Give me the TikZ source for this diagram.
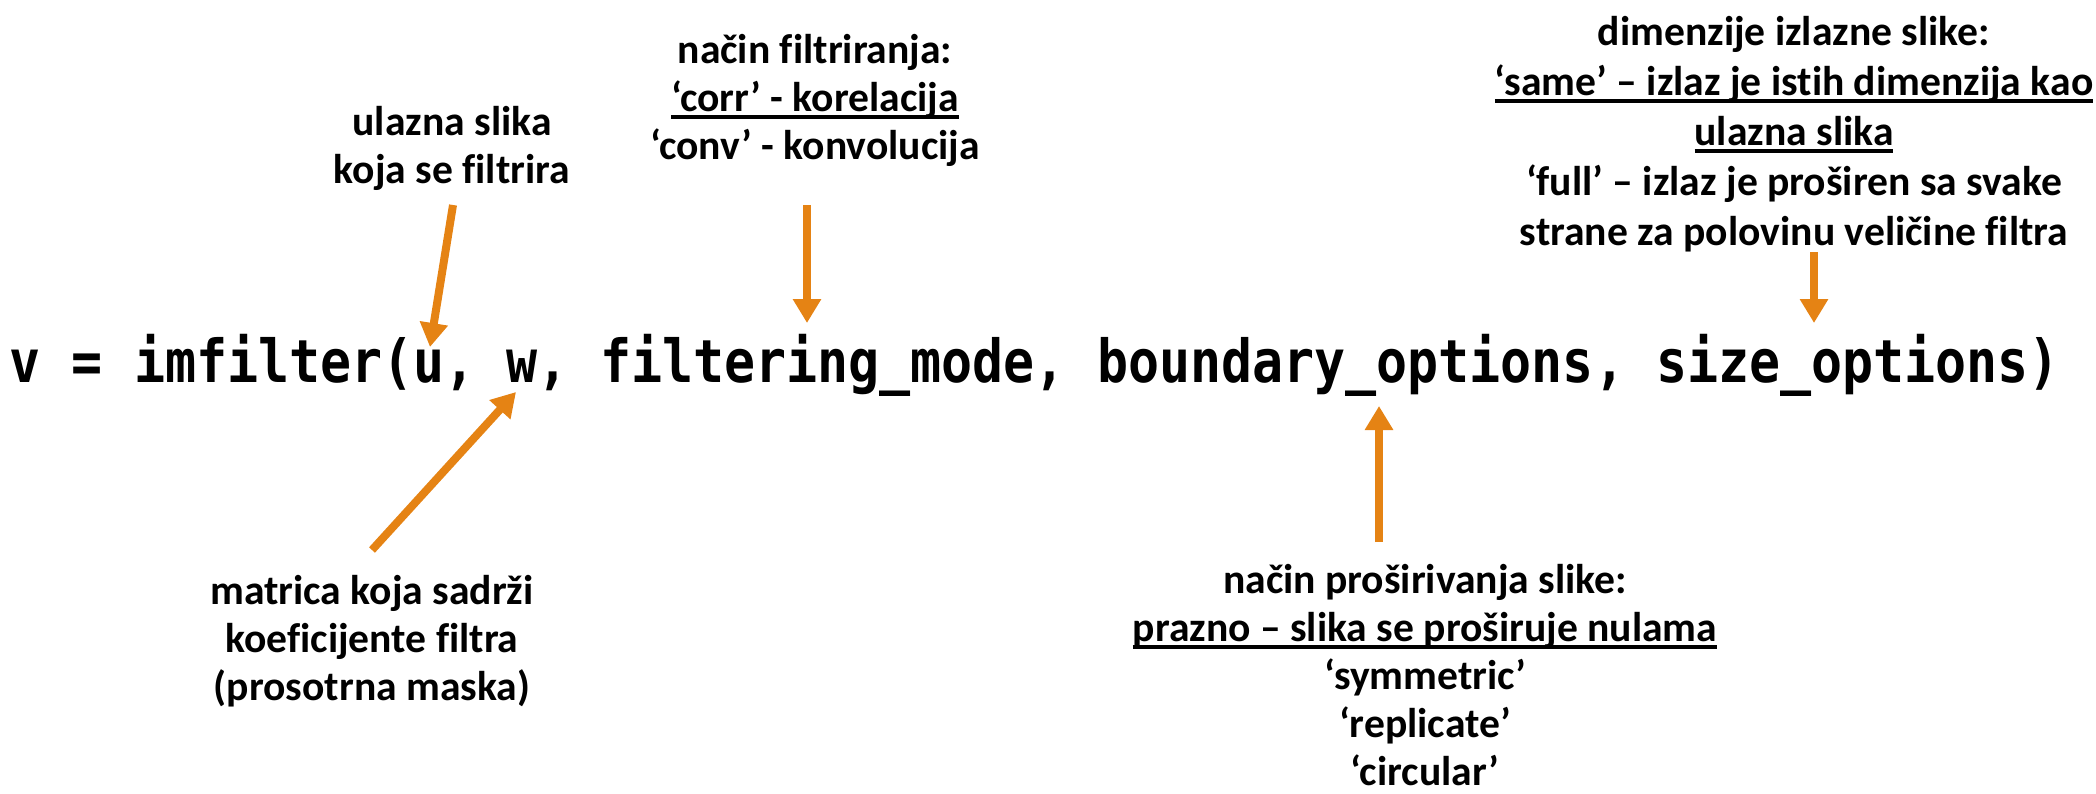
\documentclass[tikz,border=0pt]{standalone}
\usepackage{graphicx}
\usepackage{fontspec}
\setmainfont{Carlito}[Ligatures={NoCommon}]
\newfontfamily\codefont{DejaVu Sans Mono}
\usetikzlibrary{arrows.meta}
\definecolor{arroworange}{RGB}{229,131,20}
\newcommand\myul[1]{\setbox0\hbox{#1}\rlap{\rule[-3.8pt]{\wd0}{2pt}}\box0}
\tikzset{
  lbl/.style={font=\fontsize{20.8}{24}\selectfont\bfseries, align=center, inner sep=0pt},
  code/.style={font=\fontsize{25.8}{30}\selectfont\codefont\bfseries, inner sep=0pt},
  pointer/.style={draw=arroworange, line width=4pt, -{Triangle[width=13.5pt,length=12pt]}}
}
\begin{document}
\begin{tikzpicture}[x=0.5pt,y=-0.5pt]
\useasboundingbox (0,0) rectangle (2096,793);
\node[code, anchor=base] (main) at (1035,382) {\scalebox{1}[1.15]{v = imfilter(u, w, filtering\_mode, boundary\_options, size\_options)}};

\node[lbl] (lu) at (452,148) {ulazna slika\\koja se filtrira};
\node[lbl] (lmode) at (815,100) {način filtriranja:\\\myul{‘corr’ - korelacija}\\‘conv’ - konvolucija};
\node[lbl, font=\fontsize{20.8}{25}\selectfont\bfseries] (lsize) at (1794,134) {dimenzije izlazne slike:\\\myul{‘same’ – izlaz je istih dimenzija kao}\\\myul{ulazna slika}\\‘full’ – izlaz je proširen sa svake\\strane za polovinu veličine filtra};
\node[lbl] (lw) at (372,641) {matrica koja sadrži\\koeficijente filtra\\(prosotrna maska)};
\node[lbl] (lbound) at (1425,675) {način proširivanja slike:\\\myul{prazno – slika se proširuje nulama}\\‘symmetric’\\‘replicate’\\‘circular’};

\coordinate (a1s) at (453,205); \coordinate (a1e) at (430,347);
\coordinate (a2s) at (807,205); \coordinate (a2e) at (807,323);
\coordinate (a3s) at (1814,252); \coordinate (a3e) at (1814,323);
\coordinate (a4s) at (372,550); \coordinate (a4e) at (516,392);
\coordinate (a5s) at (1379,542); \coordinate (a5e) at (1379,406);

\draw[pointer] (a1s) -- (a1e);
\draw[pointer] (a2s) -- (a2e);
\draw[pointer] (a3s) -- (a3e);
\draw[pointer] (a4s) -- (a4e);
\draw[pointer] (a5s) -- (a5e);
\end{tikzpicture}
\end{document}
